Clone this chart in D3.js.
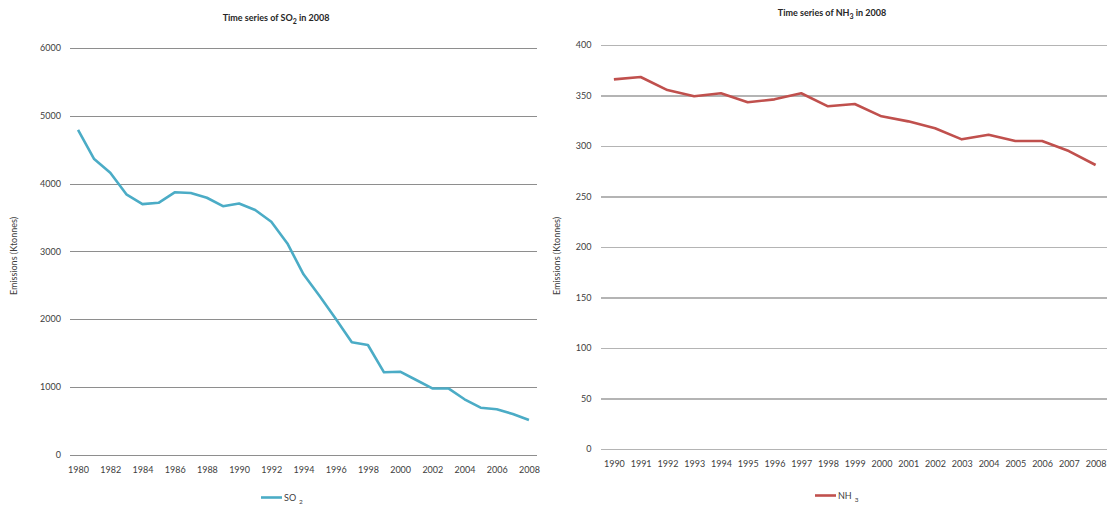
<!DOCTYPE html>
<html>
<head>
<meta charset="utf-8">
<script src="https://cdn.jsdelivr.net/npm/d3@7"></script>
<style>
  body { margin: 0; background: #fff; }
  text { font-family: Lato, "Open Sans", sans-serif; }
</style>
</head>
<body>
<div id="my_dataviz"></div>
<script>
// data
var so2Years = d3.range(1980, 2009);
var so2Values = [4790, 4360, 4160, 3840, 3695, 3715, 3870, 3860, 3790, 3665,
                 3705, 3610, 3435, 3115, 2660, 2340, 2005, 1656, 1616, 1213,
                 1222, 1100, 975, 975, 815, 691, 667, 598, 509];
var so2Ticks = [0, 1000, 2000, 3000, 4000, 5000, 6000];
var so2XTicks = d3.range(1980, 2009, 2);

var nh3Years = d3.range(1990, 2009);
var nh3Values = [366, 368.3, 355.4, 349.2, 352.2, 343.3, 346.2, 352.2, 339.3, 341.6,
                 329.4, 324.4, 317.5, 306.6, 311.2, 305, 305, 295, 281.2];
var nh3Ticks = [0, 50, 100, 150, 200, 250, 300, 350, 400];

// one svg for both charts
var svg = d3.select("#my_dataviz")
  .append("svg")
    .attr("width", 1107)
    .attr("height", 505);

function drawChart(opt) {
  var x = d3.scalePoint()
    .domain(opt.years)
    .range([opt.left, opt.right])
    .padding(0.5);

  var y = d3.scaleLinear()
    .domain([0, d3.max(opt.yTicks)])
    .range([opt.bottom, opt.top]);

  // horizontal gridlines + y labels
  var gy = svg.append("g")
    .attr("transform", "translate(" + opt.left + ",0)")
    .call(d3.axisLeft(y)
      .tickValues(opt.yTicks)
      .tickFormat(d3.format("d"))
      .tickSize(-(opt.right - opt.left))
      .tickPadding(9));
  gy.select(".domain").remove();
  gy.selectAll("line")
    .attr("stroke", opt.gridColor)
    .attr("stroke-width", opt.gridWidth)
    .attr("shape-rendering", "crispEdges");
  gy.selectAll("text")
    .attr("fill", "#404040")
    .style("font-size", "9px");

  // x labels
  var gx = svg.append("g")
    .attr("transform", "translate(0," + opt.bottom + ")")
    .call(d3.axisBottom(x)
      .tickValues(opt.xTicks)
      .tickSize(0)
      .tickPadding(opt.xPad));
  gx.select(".domain").remove();
  gx.selectAll("text")
    .attr("fill", "#404040")
    .style("font-size", "9px");

  // the line
  svg.append("path")
    .datum(opt.values)
    .attr("fill", "none")
    .attr("stroke", opt.color)
    .attr("stroke-width", 2.6)
    .attr("stroke-linejoin", "round")
    .attr("d", d3.line()
      .x(function (d, i) { return x(opt.years[i]); })
      .y(function (d) { return y(d); }));

  // title
  var t = svg.append("text")
    .attr("x", opt.titleX)
    .attr("y", opt.titleY)
    .attr("text-anchor", "middle")
    .attr("fill", "#262626")
    .style("font-size", "9px")
    .style("font-weight", "bold");
  t.append("tspan").text("Time series of " + opt.name);
  t.append("tspan").attr("dy", 2.5).style("font-size", "7px").text(opt.sub);
  t.append("tspan").attr("dy", -2.5).text(" in 2008");

  // y axis title
  svg.append("text")
    .attr("transform", "translate(" + opt.yTitleX + "," + opt.yTitleY + ") rotate(-90)")
    .attr("text-anchor", "middle")
    .attr("fill", "#404040")
    .style("font-size", "9px")
    .text("Emissions (Ktonnes)");

  // legend
  svg.append("line")
    .attr("x1", opt.legX).attr("x2", opt.legX + 21)
    .attr("y1", opt.legY).attr("y2", opt.legY)
    .attr("stroke", opt.color)
    .attr("stroke-width", 2.6);
  var lt = svg.append("text")
    .attr("x", opt.legX + 23)
    .attr("y", opt.legY + 3.5)
    .attr("fill", "#404040")
    .style("font-size", "9px");
  lt.append("tspan").text(opt.name);
  lt.append("tspan").attr("dx", 3).attr("dy", 2.5).style("font-size", "6.5px").text(opt.sub);
}

drawChart({
  years: so2Years, values: so2Values, yTicks: so2Ticks, xTicks: so2XTicks,
  left: 70, right: 537, top: 48, bottom: 454.5, xPad: 12,
  gridColor: "#8e8e8e", gridWidth: 1, color: "#4bacc6",
  name: "SO", sub: "2", titleX: 276, titleY: 21,
  yTitleX: 17, yTitleY: 256, legX: 261, legY: 497.5
});

drawChart({
  years: nh3Years, values: nh3Values, yTicks: nh3Ticks, xTicks: nh3Years,
  left: 600.5, right: 1109, top: 45, bottom: 449, xPad: 12,
  gridColor: "#b4b4b4", gridWidth: 1.3, color: "#c0504d",
  name: "NH", sub: "3", titleX: 832, titleY: 16,
  yTitleX: 560, yTitleY: 256, legX: 815, legY: 495.5
});
</script>
</body>
</html>
